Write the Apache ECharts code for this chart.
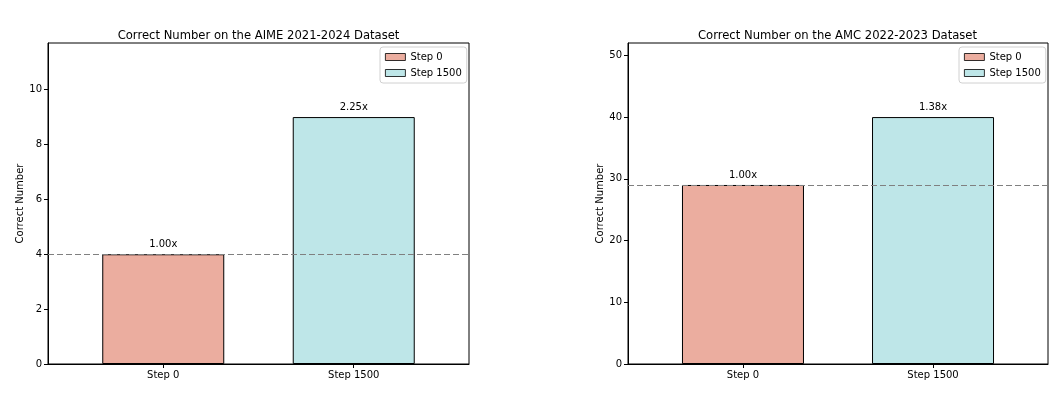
<!DOCTYPE html>
<html><head><meta charset="utf-8">
<script src="https://cdn.jsdelivr.net/npm/echarts@6/dist/echarts.min.js"></script>
<style>html,body{margin:0;padding:0;background:#fff}#c{width:1059px;height:393px}</style>
</head><body><div id="c"></div>
<script>
const categories = ['Step 0', 'Step 1500'];
const aimeValues = [4, 9];
const amcValues = [29, 40];
const aimeTicks = [0, 2, 4, 6, 8, 10];
const amcTicks = [0, 10, 20, 30, 40, 50];
const aimeMax = 11.7;
const amcMax = 52;
const titles = ['Correct Number on the AIME 2021-2024 Dataset', 'Correct Number on the AMC 2022-2023 Dataset'];
const colors = ['#EBAD9F', '#BEE6E8'];

const FONT = 'DejaVu Sans';
const chart = echarts.init(document.getElementById('c'), null, {renderer: 'canvas'});

function xAxis(i) {
  return {
    type: 'value', gridIndex: i, min: -0.605, max: 1.605,
    splitLine: {show: false},
    axisLine: {show: true, onZero: false, lineStyle: {color: '#000', width: 1}},
    axisTick: {show: true, length: 4, customValues: [0, 1], lineStyle: {color: '#000'}},
    axisLabel: {customValues: [0, 1], margin: 6, color: '#000', fontFamily: FONT, fontSize: 10,
      formatter: v => categories[Math.round(v)]}
  };
}
function yAxis(i, max, ticks) {
  return {
    type: 'value', gridIndex: i, min: 0, max: max, position: 'left',
    name: 'Correct Number', nameLocation: 'middle', nameGap: 23,
    nameTextStyle: {color: '#000', fontFamily: FONT, fontSize: 10},
    splitLine: {show: false},
    axisLine: {show: true, onZero: false, lineStyle: {color: '#000', width: 1}},
    axisTick: {show: true, length: 4, customValues: ticks, lineStyle: {color: '#000'}},
    axisLabel: {customValues: ticks, margin: 6, color: '#000', fontFamily: FONT, fontSize: 10}
  };
}
function seriesFor(i, values) {
  const base = values[0];
  return categories.map((name, k) => {
    const s = {
      type: 'bar', name: name, xAxisIndex: i, yAxisIndex: i,
      data: [[k, values[k]]], barWidth: 122, barGap: '-100%',
      itemStyle: {color: colors[k], borderColor: '#000', borderWidth: 1},
      label: {show: true, position: 'top', distance: 5, color: '#000', fontFamily: FONT, fontSize: 10,
        formatter: p => (p.value[1] / base).toFixed(2) + 'x'},
      emphasis: {disabled: true}, animation: false
    };
    if (k === 0) {
      s.markLine = {
        silent: true, symbol: 'none', label: {show: false}, animation: false,
        lineStyle: {color: '#808080', type: [6, 3], width: 1},
        data: [{yAxis: base}]
      };
    }
    return s;
  });
}
function legend(left) {
  return {
    data: categories, orient: 'vertical', left: left, top: 47,
    icon: 'rect', itemWidth: 20, itemHeight: 7, itemGap: 6,
    itemStyle: {borderColor: '#000', borderWidth: 0.8},
    padding: [5, 5, 5, 5], borderColor: '#d0d0d0', borderWidth: 1, borderRadius: 3,
    backgroundColor: 'rgba(255,255,255,0.8)',
    textStyle: {color: '#000', fontFamily: FONT, fontSize: 10},
    selectedMode: false
  };
}

chart.setOption({
  animation: false,
  title: [
    {text: titles[0], left: 253.5, top: 25, textAlign: 'center',
      textStyle: {color: '#000', fontFamily: FONT, fontSize: 11.6, fontWeight: 'normal'}},
    {text: titles[1], left: 832.5, top: 25, textAlign: 'center',
      textStyle: {color: '#000', fontFamily: FONT, fontSize: 11.6, fontWeight: 'normal'}}
  ],
  legend: [legend(380), legend(959)],
  grid: [
    {left: 48, right: 590, top: 43, bottom: 29, show: true, borderColor: '#000', borderWidth: 1, containLabel: false},
    {left: 628, right: 11, top: 43, bottom: 29, show: true, borderColor: '#000', borderWidth: 1, containLabel: false}
  ],
  xAxis: [xAxis(0), xAxis(1)],
  yAxis: [yAxis(0, aimeMax, aimeTicks), yAxis(1, amcMax, amcTicks)],
  series: [...seriesFor(0, aimeValues), ...seriesFor(1, amcValues)]
});
</script></body></html>
